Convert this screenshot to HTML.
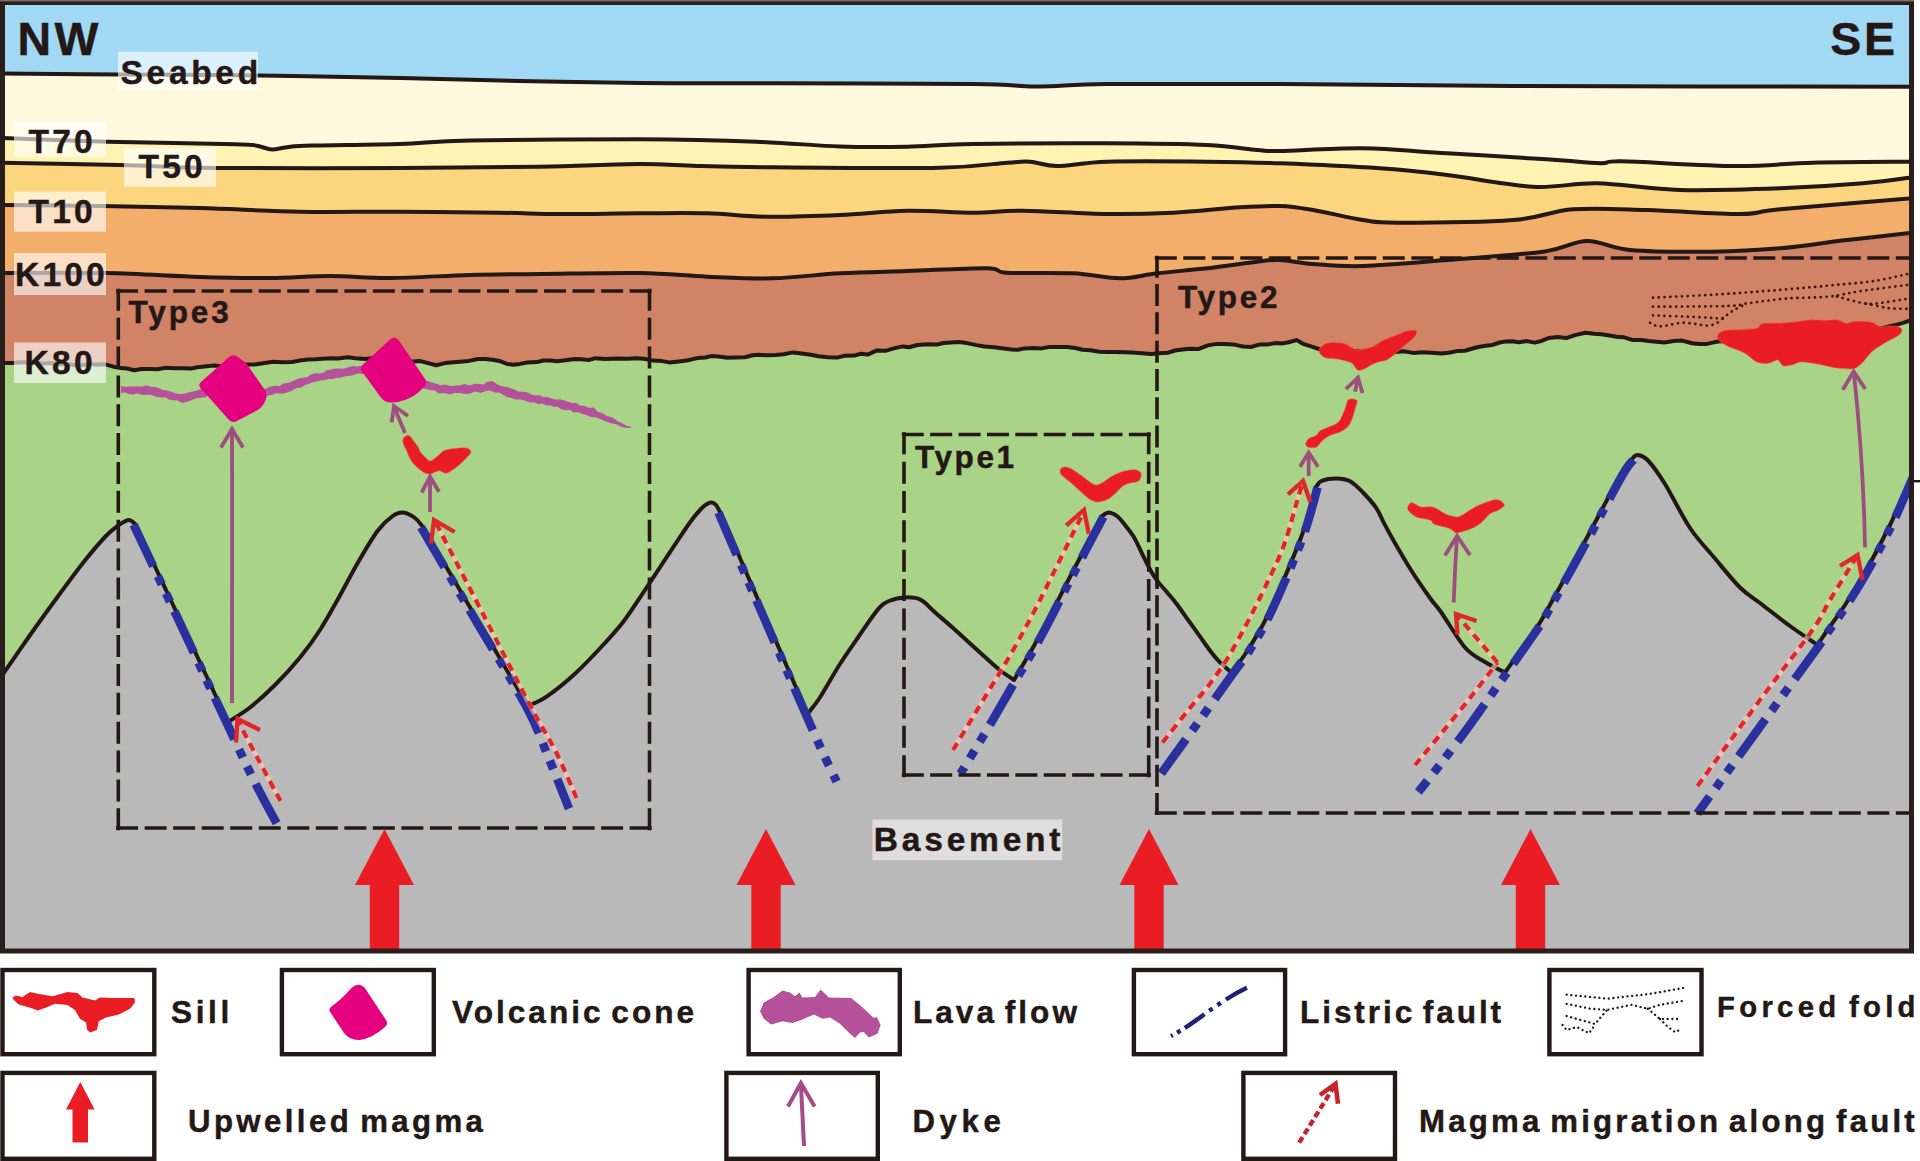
<!DOCTYPE html>
<html lang="en"><head><meta charset="utf-8"><title>Magma plumbing schematic</title>
<style>html,body{margin:0;padding:0;background:#fff}svg{display:block}text{font-family:"Liberation Sans",sans-serif;font-weight:700;fill:#231815;stroke:#1d1716;stroke-width:.45px;stroke-linejoin:round;paint-order:stroke}.h{fill:none;stroke:#231815;stroke-width:4;stroke-linejoin:round;stroke-linecap:round}.bx{fill:none;stroke:#231815;stroke-width:3.6;stroke-dasharray:22 6.5}.lb{fill:#fff;fill-opacity:.62}.lg{fill:#fff;stroke:#231815;stroke-width:4.4}.dy{fill:none;stroke:#9c4f7e;stroke-width:3.8;stroke-linejoin:miter;stroke-linecap:butt}.fb{fill:none;stroke:#2a309e;stroke-width:8.6;stroke-dasharray:46 11 9 10 9 10.5}.rd{fill:none;stroke:#e0262a;stroke-width:4.2;stroke-dasharray:8.3 6}.ru{fill:none;stroke:#ffcdbe;stroke-opacity:.6;stroke-width:5}.rh{fill:none;stroke:#e0262a;stroke-width:4.3;stroke-linejoin:miter}.dot{fill:none;stroke:#3d1609;stroke-width:2.7;stroke-linecap:round;stroke-dasharray:0.1 5.7}</style></head><body>
<svg width="1920" height="1161" viewBox="0 0 1920 1161">
<rect width="1920" height="1161" fill="#fff"/>
<defs><clipPath id="fr"><rect x="2.5" y="2.5" width="1909" height="948.5"/></clipPath></defs>
<g clip-path="url(#fr)">
<rect x="0" y="0" width="1915" height="955" fill="#a1d8f4"/>
<path d="M0 73.5C20 73.7 76.7 74.2 120 74.5C163.3 74.8 213.3 74.9 260 75.5C306.7 76.1 356.7 77.1 400 78C443.3 78.9 480 80.2 520 81C560 81.8 597.8 82.6 640 83C682.2 83.4 717.5 83.1 773 83.3C828.5 83.5 928.5 83.5 973 84C1017.5 84.5 1017.7 86.5 1040 86.5C1062.3 86.5 1067 84.4 1107 84C1147 83.6 1212.3 83.7 1280 84C1347.7 84.3 1407.2 85.5 1513 86C1618.8 86.5 1848 86.6 1915 86.7L1915 960L0 960Z" fill="#fef9dc"/>
<path d="M0 138C17.8 138.6 67.7 140.6 107 141.7C146.3 142.8 211 143.6 236 144.3C261 145 251 144.9 257 145.8C263 146.7 267 149.3 272 149.5C277 149.7 280.3 147.8 287 147.2C293.7 146.5 293.2 146.1 312 145.6C330.8 145.1 373.7 144.8 400 144C426.3 143.2 430 141.3 470 140.5C510 139.7 592.2 139.1 640 139.3C687.8 139.5 723.7 140.5 757 141.7C790.3 142.9 815 145.7 840 146.5C865 147.3 884.8 147.1 907 146.7C929.2 146.3 939.7 144.6 973 144C1006.3 143.4 1068 143.1 1107 143.3C1146 143.5 1182 143.9 1207 145C1232 146.1 1244.8 149 1257 150C1269.2 151 1262.3 151.3 1280 151C1297.7 150.7 1335.2 147.9 1363 148.3C1390.8 148.7 1416.3 151.5 1447 153.3C1477.7 155.1 1521.5 157.6 1547 159.3C1572.5 161 1587.5 163 1600 163.3C1612.5 163.6 1599.2 160.9 1622 161.3C1644.8 161.8 1705.2 165.8 1737 166C1768.8 166.2 1783.3 163.4 1813 162.7C1842.7 162 1898 161.9 1915 161.7L1915 960L0 960Z" fill="#fef3b3"/>
<path d="M0 162.7C20 163.1 84.2 164.1 120 165C155.8 165.9 168.3 167.5 215 168C261.7 168.5 345.8 168.2 400 168C454.2 167.8 500 167.4 540 166.7C580 166 613.8 164.1 640 164C666.2 163.9 674.8 165.4 697 166C719.2 166.6 732.5 167 773 167.3C813.5 167.6 901 168.5 940 167.7C979 166.9 992 163.7 1007 162.7C1022 161.7 1021.7 161.1 1030 161.7C1038.3 162.2 1044.2 166 1057 166C1069.8 166 1082 162.4 1107 161.7C1132 161 1178.2 161.4 1207 161.7C1235.8 162 1251.2 162.2 1280 163.3C1308.8 164.4 1352.2 166.4 1380 168.3C1407.8 170.2 1421.5 171.9 1447 175C1472.5 178.1 1508 185.3 1533 186.7C1558 188.1 1572.5 182.8 1597 183.3C1621.5 183.9 1649.5 189.2 1680 190C1710.5 190.8 1749.5 189.4 1780 188.3C1810.5 187.2 1840.5 185.2 1863 183.3C1885.5 181.4 1906.3 178.1 1915 177L1915 960L0 960Z" fill="#fbd67f"/>
<path d="M0 205C16.7 205.2 66.7 205.5 100 206C133.3 206.5 166.7 207.1 200 208C233.3 208.9 266.7 211.1 300 211.7C333.3 212.3 366.7 211.5 400 211.7C433.3 211.9 473.3 212.3 500 212.7C526.7 213.1 536.7 213.9 560 214C583.3 214.1 615.5 213.4 640 213.3C664.5 213.2 685.8 212.7 707 213.3C728.2 213.9 744.8 216.4 767 216.7C789.2 217 816.7 216 840 215C863.3 214 884.8 211.1 907 210.7C929.2 210.3 953.7 212.7 973 212.7C992.3 212.7 1000.7 210.5 1023 210.7C1045.3 210.9 1082 213.7 1107 214C1132 214.3 1150.8 213.8 1173 212.7C1195.2 211.6 1222.2 208.4 1240 207.3C1257.8 206.2 1267.8 205.6 1280 206C1292.2 206.4 1299.2 207.7 1313 210C1326.8 212.3 1349 217.9 1363 220C1377 222.1 1372 222.7 1397 222.7C1422 222.7 1483.7 222.2 1513 220C1542.3 217.8 1550.7 211 1573 209.3C1595.3 207.6 1619.2 209.2 1647 210C1674.8 210.8 1717.8 214.1 1740 214C1762.2 213.9 1750.8 212 1780 209.3C1809.2 206.6 1892.5 199.9 1915 198L1915 960L0 960Z" fill="#f4ae6b"/>
<path d="M0 273C17.8 273 73.7 272.3 107 273C140.3 273.7 172.8 276.2 200 277C227.2 277.8 248.3 278.2 270 278C291.7 277.8 310 276 330 276C350 276 366.7 278.2 390 278C413.3 277.8 445 275.7 470 275C495 274.3 511.7 274.3 540 274C568.3 273.7 612.2 272.6 640 273C667.8 273.4 684.8 275.8 707 276.7C729.2 277.6 750.8 278.9 773 278.3C795.2 277.7 817.7 274.5 840 273.3C862.3 272.1 882.5 271.8 907 271C931.5 270.2 970.3 268 987 268.3C1003.7 268.6 992.7 271.9 1007 272.7C1021.3 273.5 1054.2 272.4 1073 273.3C1091.8 274.2 1106 278.3 1120 278.3C1134 278.3 1142.5 275 1157 273.3C1171.5 271.6 1190.3 270.2 1207 268.3C1223.7 266.4 1244.8 263.1 1257 261.7C1269.2 260.3 1270.7 259.6 1280 260C1289.3 260.4 1299.2 263 1313 264C1326.8 265 1340.7 266.7 1363 266C1385.3 265.3 1417 262.4 1447 260C1477 257.6 1519.7 254.9 1543 251.7C1566.3 248.5 1572.5 241.3 1587 241C1601.5 240.7 1609 248.2 1630 250C1651 251.8 1688 252 1713 251.7C1738 251.4 1757.7 250.2 1780 248.3C1802.3 246.4 1824.5 242.6 1847 240C1869.5 237.4 1903.7 233.8 1915 232.5L1915 960L0 960Z" fill="#d08365"/>
<path d="M0 362.3L6.6 363.1L12.9 363L20.4 362.3L28.4 362.4L36.1 362.6L42.5 363.5L51.8 363.1L58.7 364.2L68.5 364.3L76.1 365.3L82.2 365.2L89.4 363.9L95.9 364.4L105.1 364.3L113.5 366.7L121 368.1L127.2 368.5L134 370.2L141.7 369L150.1 368.9L157.3 369.2L166.1 367.8L174.4 368.2L183.9 368.3L191 368.6L197.5 367.3L206.5 366.2L214.5 365.5L223.2 366.4L231.5 366.1L238.7 365.2L247.1 364.5L254.9 364.5L264.7 363.1L273.3 361.7L282.2 362.3L292.1 362L299.3 360.6L307.9 359.4L315.8 359.3L322.3 358.7L331.3 358.3L338.3 358.4L347.8 357.3L355.6 358.2L365.1 358.9L374.6 358L382.2 358.4L391.8 360.4L398.4 359.5L405.3 360.2L413.3 361.6L420.3 361.1L428 363.1L436.2 365.2L445 363.1L453.5 362.3L459.7 361.8L468.8 360.9L478 359L485.6 359L494.1 360L500.4 361.3L507.1 363.9L513.3 364.8L519.9 363.9L527.3 362.5L536.8 362.1L543.4 360.5L550.8 360.4L557.3 361.2L567.3 360.1L575.2 359L581.6 359.3L588.7 360.1L595.3 358.2L605.1 358.9L611.7 358.7L617.8 358.5L627.7 358.8L636.5 358.2L644 358.8L653.1 360.6L662.2 361.1L669.1 362.4L679 361.4L688.2 360.3L697.2 358.1L705.3 357.5L711.4 356.1L718.5 356.4L727.3 357.7L735.1 357.6L745 357.3L752.5 355.3L759.4 354.8L766.2 355.3L775.8 355.1L783.7 354.2L792.9 352.4L801.6 353.5L810.7 354.8L818.6 356.3L827.8 357.2L837 357.6L844.5 355.8L854.3 355.6L861 353.8L867.6 354.6L876.8 350.4L886.2 350.7L894.8 348.1L903 346.4L909 347.2L917.6 345L927.4 344.3L936.9 344.5L943.7 343L950.9 342.5L959.2 342.1L966.9 343.1L976.5 345.1L984.4 346.5L994 347.2L1003.7 348.5L1011.8 349.5L1017.9 349.8L1024.6 348.4L1033.8 348L1041.7 348.4L1049.9 346.9L1058 346.9L1067.1 346.9L1075.4 348L1082.5 349.8L1090.5 350.2L1099.5 351.8L1107.3 351.9L1115.3 352L1124.1 352.2L1132.2 352.5L1142 353.2L1151.5 354L1158.5 353.2L1168.3 352.7L1174.9 350.5L1182.6 349.5L1189.6 348.7L1198.3 349.1L1207.9 345.4L1216.7 343.9L1223.3 344L1233.2 344.4L1243 346.5L1250.9 347L1260.3 344.4L1268 344.4L1275.3 343.1L1282.6 343.4L1288.7 342.2L1296.5 340.1L1303.8 344.2L1311.8 346.6L1321.8 350L1331.7 350.2L1338.7 350.2L1347.8 350.7L1354.4 351.1L1364 352L1371 350.7L1380.7 351.7L1389.5 350.8L1395.7 352.1L1403.4 351.2L1413.2 352.9L1422.4 352.3L1431.8 352.8L1441.3 353.4L1448.6 352.7L1458.3 350.9L1464.9 350.7L1471.8 348.8L1478.5 347L1485.3 345.8L1492.5 344.9L1499.6 342.5L1506.4 341.4L1512.4 341.2L1518.5 342.2L1526.7 341.1L1534.6 342.6L1541 341.1L1548.7 338L1558.1 336.9L1566.1 338.1L1576 334.9L1585.4 332.8L1593.9 333.7L1601.3 334.3L1607.8 335.2L1616.8 336.7L1623.4 337.2L1632.8 340.1L1641.5 340L1648.5 341L1656.3 341.7L1664.1 342.5L1673.9 341.1L1682.1 340.6L1692 343.3L1699.4 344.1L1706.9 343.9L1714.9 342.1L1723 341.1L1730 340.9L1737.6 340.4L1743.7 340.6L1750.6 340.8L1758.8 340.7L1767.4 340.2L1776.9 339L1784.2 339.8L1790.8 338.9L1799.4 337.1L1808.7 337.9L1817.2 336.7L1826.5 334.6L1834.6 334.6L1843.9 334.2L1853.2 332.8L1862.8 332.1L1871.6 330.3L1877.7 329.5L1885.1 327.5L1894.5 325.3L1903 322.9L1911.7 320L1915 319L1915 960L0 960Z" fill="#a9d387"/>
<path d="M0 678C0.5 677.3 -1.7 680.7 3 674C7.7 667.3 19.2 650.5 28 638C36.8 625.5 46.6 611.8 56 599C65.4 586.2 76.3 571.3 84.5 561C92.7 550.7 99.4 542.9 105 537C110.6 531.1 114.1 528.5 118 525.7C121.9 522.9 125.8 520.3 128.6 520C131.4 519.7 133.9 523.3 135 524L228 722L228 722C231.7 719.6 242.2 713.7 250 707.5C257.8 701.3 266.7 693.3 275 685C283.3 676.7 292.5 666.7 300 657.5C307.5 648.3 313.7 639.8 320 630C326.3 620.2 331.5 610.5 338 599C344.5 587.5 352.2 572.3 358.8 561C365.4 549.7 371.9 538.5 377.5 531C383.1 523.5 388.4 519.1 392.6 516C396.9 512.9 399.3 512.2 403 512.5C406.7 512.8 411.7 515.6 415 518C418.3 520.4 421.3 525.2 422.6 526.6L527.8 706L527.8 706C530.9 704.4 538.8 701.9 546.6 696.6C554.4 691.3 565.1 682.8 574.7 674C584.3 665.2 595.9 652.8 604 644C612.1 635.2 617 630 623.5 621.5C630 613 636.7 602.4 643 593C649.3 583.6 655.3 574.3 661.5 565C667.7 555.7 675.1 544.3 680 537C684.9 529.7 687.6 525.6 691 521C694.4 516.4 697.8 512.3 700.5 509.5C703.2 506.7 705.1 505.2 707 504C708.9 502.8 710.1 502.3 711.6 502.5C713.1 502.7 714.6 503.4 716 505C717.4 506.6 719.3 510.8 720 512L807.5 714L807.5 714C809.5 711.3 814.2 706.3 819.6 698C825 689.7 833.4 674.3 840 664C846.6 653.7 852.7 645.1 859 636C865.3 626.9 872.8 615.4 877.8 609.6C882.8 603.8 884.3 603 889 601C893.7 599 900.7 597.6 906 597.4C911.3 597.2 916.3 597.6 921 600C925.7 602.4 928.7 606.8 934 611.5C939.3 616.2 946.7 622.4 953 628C959.3 633.6 965.5 639.3 971.7 645C978 650.7 985.5 657.6 990.5 662C995.5 666.4 997.8 668.5 1001.7 671.5C1005.6 674.5 1012 678.6 1014 680L1014 680C1018.3 672.5 1030.5 652.5 1040 635C1049.5 617.5 1060.7 594.8 1071 575C1081.3 555.2 1096.8 525.8 1102 516L1102 516C1102.7 515.6 1104.6 513.9 1106 513.4C1107.4 512.9 1108.4 512.3 1110.2 512.7C1112 513.1 1114.5 513.9 1117 516C1119.5 518.1 1122.6 521.9 1125.4 525.4C1128.2 528.9 1131.2 532.5 1134 537.3C1136.8 542.1 1139.6 548.6 1142.4 554.3C1145.2 560 1148.5 566.8 1151 571.3C1153.5 575.8 1154.9 577.7 1157.7 581.4C1160.5 585.1 1164.8 589.6 1167.9 593.3C1171 597 1173.5 599.8 1176.3 603.5C1179.1 607.2 1182 611.4 1184.8 615.4C1187.6 619.4 1190.5 623.2 1193.3 627.2C1196.1 631.2 1199 635.1 1201.8 639.1C1204.6 643.1 1207.5 647.3 1210.3 651C1213.1 654.7 1215.3 657.6 1218.8 661.2C1222.3 664.8 1229.4 670.9 1231.5 672.8L1231.5 672.8C1234 669.3 1240.9 660.8 1246.6 652C1252.2 643.2 1259.2 632.2 1265.4 620C1271.6 607.8 1277.7 593.7 1284 579C1290.3 564.3 1297.7 547.3 1303 532C1308.3 516.7 1313.8 494.5 1316 487L1316 487C1317 486 1318.2 482.2 1321.7 480.8C1325.2 479.4 1332 478.4 1336.7 478.5C1341.4 478.6 1345.6 479 1350 481.3C1354.4 483.6 1358.7 488.1 1363 492.5C1367.3 496.9 1372.5 502.6 1376 507.6C1379.5 512.6 1381 517.4 1383.7 522.6C1386.5 527.8 1388 530.8 1392.5 538.7C1397 546.6 1404.8 560.1 1411 570C1417.2 579.9 1425 591 1430 598C1435 605 1435.2 603.8 1441 612C1446.8 620.2 1457.7 639.2 1465 647.5C1472.3 655.8 1478.3 657.8 1485 662C1491.7 666.2 1501.7 670.8 1505 672.5L1505 672.5C1510 665.4 1528.2 640.1 1535 630C1541.8 619.9 1538 626.2 1546 612C1554 597.8 1570.7 567.7 1583 545C1595.3 522.3 1611.8 490.3 1620 476C1628.2 461.7 1630 461.8 1632 459L1632 459C1632.9 458.3 1634.8 454.8 1637.5 455C1640.2 455.2 1643.4 455.7 1648 460.5C1652.6 465.3 1658 472.8 1665 484C1672 495.2 1681.7 515.6 1690 528C1698.3 540.4 1706.7 548.6 1715 558.5C1723.3 568.4 1732.5 580.1 1740 587.5C1747.5 594.9 1751.7 596.6 1760 603C1768.3 609.4 1780.4 619 1790 626C1799.6 633 1812.9 641.8 1817.5 645L1817.5 645C1819.2 642.5 1822.9 636.7 1827.5 630C1832.1 623.3 1838.8 614.6 1845 605C1851.2 595.4 1857.5 585.8 1865 572.5C1872.5 559.2 1882.5 540.4 1890 525C1897.5 509.6 1906.4 488 1910 480C1913.6 472 1911.2 477.5 1911.5 477L1915 960L0 960Z" fill="#b9b9b9"/>
<path class="h" d="M0 73.5C20 73.7 76.7 74.2 120 74.5C163.3 74.8 213.3 74.9 260 75.5C306.7 76.1 356.7 77.1 400 78C443.3 78.9 480 80.2 520 81C560 81.8 597.8 82.6 640 83C682.2 83.4 717.5 83.1 773 83.3C828.5 83.5 928.5 83.5 973 84C1017.5 84.5 1017.7 86.5 1040 86.5C1062.3 86.5 1067 84.4 1107 84C1147 83.6 1212.3 83.7 1280 84C1347.7 84.3 1407.2 85.5 1513 86C1618.8 86.5 1848 86.6 1915 86.7"/>
<path class="h" d="M0 138C17.8 138.6 67.7 140.6 107 141.7C146.3 142.8 211 143.6 236 144.3C261 145 251 144.9 257 145.8C263 146.7 267 149.3 272 149.5C277 149.7 280.3 147.8 287 147.2C293.7 146.5 293.2 146.1 312 145.6C330.8 145.1 373.7 144.8 400 144C426.3 143.2 430 141.3 470 140.5C510 139.7 592.2 139.1 640 139.3C687.8 139.5 723.7 140.5 757 141.7C790.3 142.9 815 145.7 840 146.5C865 147.3 884.8 147.1 907 146.7C929.2 146.3 939.7 144.6 973 144C1006.3 143.4 1068 143.1 1107 143.3C1146 143.5 1182 143.9 1207 145C1232 146.1 1244.8 149 1257 150C1269.2 151 1262.3 151.3 1280 151C1297.7 150.7 1335.2 147.9 1363 148.3C1390.8 148.7 1416.3 151.5 1447 153.3C1477.7 155.1 1521.5 157.6 1547 159.3C1572.5 161 1587.5 163 1600 163.3C1612.5 163.6 1599.2 160.9 1622 161.3C1644.8 161.8 1705.2 165.8 1737 166C1768.8 166.2 1783.3 163.4 1813 162.7C1842.7 162 1898 161.9 1915 161.7"/>
<path class="h" d="M0 162.7C20 163.1 84.2 164.1 120 165C155.8 165.9 168.3 167.5 215 168C261.7 168.5 345.8 168.2 400 168C454.2 167.8 500 167.4 540 166.7C580 166 613.8 164.1 640 164C666.2 163.9 674.8 165.4 697 166C719.2 166.6 732.5 167 773 167.3C813.5 167.6 901 168.5 940 167.7C979 166.9 992 163.7 1007 162.7C1022 161.7 1021.7 161.1 1030 161.7C1038.3 162.2 1044.2 166 1057 166C1069.8 166 1082 162.4 1107 161.7C1132 161 1178.2 161.4 1207 161.7C1235.8 162 1251.2 162.2 1280 163.3C1308.8 164.4 1352.2 166.4 1380 168.3C1407.8 170.2 1421.5 171.9 1447 175C1472.5 178.1 1508 185.3 1533 186.7C1558 188.1 1572.5 182.8 1597 183.3C1621.5 183.9 1649.5 189.2 1680 190C1710.5 190.8 1749.5 189.4 1780 188.3C1810.5 187.2 1840.5 185.2 1863 183.3C1885.5 181.4 1906.3 178.1 1915 177"/>
<path class="h" d="M0 205C16.7 205.2 66.7 205.5 100 206C133.3 206.5 166.7 207.1 200 208C233.3 208.9 266.7 211.1 300 211.7C333.3 212.3 366.7 211.5 400 211.7C433.3 211.9 473.3 212.3 500 212.7C526.7 213.1 536.7 213.9 560 214C583.3 214.1 615.5 213.4 640 213.3C664.5 213.2 685.8 212.7 707 213.3C728.2 213.9 744.8 216.4 767 216.7C789.2 217 816.7 216 840 215C863.3 214 884.8 211.1 907 210.7C929.2 210.3 953.7 212.7 973 212.7C992.3 212.7 1000.7 210.5 1023 210.7C1045.3 210.9 1082 213.7 1107 214C1132 214.3 1150.8 213.8 1173 212.7C1195.2 211.6 1222.2 208.4 1240 207.3C1257.8 206.2 1267.8 205.6 1280 206C1292.2 206.4 1299.2 207.7 1313 210C1326.8 212.3 1349 217.9 1363 220C1377 222.1 1372 222.7 1397 222.7C1422 222.7 1483.7 222.2 1513 220C1542.3 217.8 1550.7 211 1573 209.3C1595.3 207.6 1619.2 209.2 1647 210C1674.8 210.8 1717.8 214.1 1740 214C1762.2 213.9 1750.8 212 1780 209.3C1809.2 206.6 1892.5 199.9 1915 198"/>
<path class="h" d="M0 273C17.8 273 73.7 272.3 107 273C140.3 273.7 172.8 276.2 200 277C227.2 277.8 248.3 278.2 270 278C291.7 277.8 310 276 330 276C350 276 366.7 278.2 390 278C413.3 277.8 445 275.7 470 275C495 274.3 511.7 274.3 540 274C568.3 273.7 612.2 272.6 640 273C667.8 273.4 684.8 275.8 707 276.7C729.2 277.6 750.8 278.9 773 278.3C795.2 277.7 817.7 274.5 840 273.3C862.3 272.1 882.5 271.8 907 271C931.5 270.2 970.3 268 987 268.3C1003.7 268.6 992.7 271.9 1007 272.7C1021.3 273.5 1054.2 272.4 1073 273.3C1091.8 274.2 1106 278.3 1120 278.3C1134 278.3 1142.5 275 1157 273.3C1171.5 271.6 1190.3 270.2 1207 268.3C1223.7 266.4 1244.8 263.1 1257 261.7C1269.2 260.3 1270.7 259.6 1280 260C1289.3 260.4 1299.2 263 1313 264C1326.8 265 1340.7 266.7 1363 266C1385.3 265.3 1417 262.4 1447 260C1477 257.6 1519.7 254.9 1543 251.7C1566.3 248.5 1572.5 241.3 1587 241C1601.5 240.7 1609 248.2 1630 250C1651 251.8 1688 252 1713 251.7C1738 251.4 1757.7 250.2 1780 248.3C1802.3 246.4 1824.5 242.6 1847 240C1869.5 237.4 1903.7 233.8 1915 232.5"/>
<path class="h" d="M0 362.3L6.6 363.1L12.9 363L20.4 362.3L28.4 362.4L36.1 362.6L42.5 363.5L51.8 363.1L58.7 364.2L68.5 364.3L76.1 365.3L82.2 365.2L89.4 363.9L95.9 364.4L105.1 364.3L113.5 366.7L121 368.1L127.2 368.5L134 370.2L141.7 369L150.1 368.9L157.3 369.2L166.1 367.8L174.4 368.2L183.9 368.3L191 368.6L197.5 367.3L206.5 366.2L214.5 365.5L223.2 366.4L231.5 366.1L238.7 365.2L247.1 364.5L254.9 364.5L264.7 363.1L273.3 361.7L282.2 362.3L292.1 362L299.3 360.6L307.9 359.4L315.8 359.3L322.3 358.7L331.3 358.3L338.3 358.4L347.8 357.3L355.6 358.2L365.1 358.9L374.6 358L382.2 358.4L391.8 360.4L398.4 359.5L405.3 360.2L413.3 361.6L420.3 361.1L428 363.1L436.2 365.2L445 363.1L453.5 362.3L459.7 361.8L468.8 360.9L478 359L485.6 359L494.1 360L500.4 361.3L507.1 363.9L513.3 364.8L519.9 363.9L527.3 362.5L536.8 362.1L543.4 360.5L550.8 360.4L557.3 361.2L567.3 360.1L575.2 359L581.6 359.3L588.7 360.1L595.3 358.2L605.1 358.9L611.7 358.7L617.8 358.5L627.7 358.8L636.5 358.2L644 358.8L653.1 360.6L662.2 361.1L669.1 362.4L679 361.4L688.2 360.3L697.2 358.1L705.3 357.5L711.4 356.1L718.5 356.4L727.3 357.7L735.1 357.6L745 357.3L752.5 355.3L759.4 354.8L766.2 355.3L775.8 355.1L783.7 354.2L792.9 352.4L801.6 353.5L810.7 354.8L818.6 356.3L827.8 357.2L837 357.6L844.5 355.8L854.3 355.6L861 353.8L867.6 354.6L876.8 350.4L886.2 350.7L894.8 348.1L903 346.4L909 347.2L917.6 345L927.4 344.3L936.9 344.5L943.7 343L950.9 342.5L959.2 342.1L966.9 343.1L976.5 345.1L984.4 346.5L994 347.2L1003.7 348.5L1011.8 349.5L1017.9 349.8L1024.6 348.4L1033.8 348L1041.7 348.4L1049.9 346.9L1058 346.9L1067.1 346.9L1075.4 348L1082.5 349.8L1090.5 350.2L1099.5 351.8L1107.3 351.9L1115.3 352L1124.1 352.2L1132.2 352.5L1142 353.2L1151.5 354L1158.5 353.2L1168.3 352.7L1174.9 350.5L1182.6 349.5L1189.6 348.7L1198.3 349.1L1207.9 345.4L1216.7 343.9L1223.3 344L1233.2 344.4L1243 346.5L1250.9 347L1260.3 344.4L1268 344.4L1275.3 343.1L1282.6 343.4L1288.7 342.2L1296.5 340.1L1303.8 344.2L1311.8 346.6L1321.8 350L1331.7 350.2L1338.7 350.2L1347.8 350.7L1354.4 351.1L1364 352L1371 350.7L1380.7 351.7L1389.5 350.8L1395.7 352.1L1403.4 351.2L1413.2 352.9L1422.4 352.3L1431.8 352.8L1441.3 353.4L1448.6 352.7L1458.3 350.9L1464.9 350.7L1471.8 348.8L1478.5 347L1485.3 345.8L1492.5 344.9L1499.6 342.5L1506.4 341.4L1512.4 341.2L1518.5 342.2L1526.7 341.1L1534.6 342.6L1541 341.1L1548.7 338L1558.1 336.9L1566.1 338.1L1576 334.9L1585.4 332.8L1593.9 333.7L1601.3 334.3L1607.8 335.2L1616.8 336.7L1623.4 337.2L1632.8 340.1L1641.5 340L1648.5 341L1656.3 341.7L1664.1 342.5L1673.9 341.1L1682.1 340.6L1692 343.3L1699.4 344.1L1706.9 343.9L1714.9 342.1L1723 341.1L1730 340.9L1737.6 340.4L1743.7 340.6L1750.6 340.8L1758.8 340.7L1767.4 340.2L1776.9 339L1784.2 339.8L1790.8 338.9L1799.4 337.1L1808.7 337.9L1817.2 336.7L1826.5 334.6L1834.6 334.6L1843.9 334.2L1853.2 332.8L1862.8 332.1L1871.6 330.3L1877.7 329.5L1885.1 327.5L1894.5 325.3L1903 322.9L1911.7 320L1915 319"/>
<path class="h" style="stroke-width:4" d="M0 678C0.5 677.3 -1.7 680.7 3 674C7.7 667.3 19.2 650.5 28 638C36.8 625.5 46.6 611.8 56 599C65.4 586.2 76.3 571.3 84.5 561C92.7 550.7 99.4 542.9 105 537C110.6 531.1 114.1 528.5 118 525.7C121.9 522.9 125.8 520.3 128.6 520C131.4 519.7 133.9 523.3 135 524L228 722L228 722C231.7 719.6 242.2 713.7 250 707.5C257.8 701.3 266.7 693.3 275 685C283.3 676.7 292.5 666.7 300 657.5C307.5 648.3 313.7 639.8 320 630C326.3 620.2 331.5 610.5 338 599C344.5 587.5 352.2 572.3 358.8 561C365.4 549.7 371.9 538.5 377.5 531C383.1 523.5 388.4 519.1 392.6 516C396.9 512.9 399.3 512.2 403 512.5C406.7 512.8 411.7 515.6 415 518C418.3 520.4 421.3 525.2 422.6 526.6L527.8 706L527.8 706C530.9 704.4 538.8 701.9 546.6 696.6C554.4 691.3 565.1 682.8 574.7 674C584.3 665.2 595.9 652.8 604 644C612.1 635.2 617 630 623.5 621.5C630 613 636.7 602.4 643 593C649.3 583.6 655.3 574.3 661.5 565C667.7 555.7 675.1 544.3 680 537C684.9 529.7 687.6 525.6 691 521C694.4 516.4 697.8 512.3 700.5 509.5C703.2 506.7 705.1 505.2 707 504C708.9 502.8 710.1 502.3 711.6 502.5C713.1 502.7 714.6 503.4 716 505C717.4 506.6 719.3 510.8 720 512L807.5 714L807.5 714C809.5 711.3 814.2 706.3 819.6 698C825 689.7 833.4 674.3 840 664C846.6 653.7 852.7 645.1 859 636C865.3 626.9 872.8 615.4 877.8 609.6C882.8 603.8 884.3 603 889 601C893.7 599 900.7 597.6 906 597.4C911.3 597.2 916.3 597.6 921 600C925.7 602.4 928.7 606.8 934 611.5C939.3 616.2 946.7 622.4 953 628C959.3 633.6 965.5 639.3 971.7 645C978 650.7 985.5 657.6 990.5 662C995.5 666.4 997.8 668.5 1001.7 671.5C1005.6 674.5 1012 678.6 1014 680L1014 680C1018.3 672.5 1030.5 652.5 1040 635C1049.5 617.5 1060.7 594.8 1071 575C1081.3 555.2 1096.8 525.8 1102 516L1102 516C1102.7 515.6 1104.6 513.9 1106 513.4C1107.4 512.9 1108.4 512.3 1110.2 512.7C1112 513.1 1114.5 513.9 1117 516C1119.5 518.1 1122.6 521.9 1125.4 525.4C1128.2 528.9 1131.2 532.5 1134 537.3C1136.8 542.1 1139.6 548.6 1142.4 554.3C1145.2 560 1148.5 566.8 1151 571.3C1153.5 575.8 1154.9 577.7 1157.7 581.4C1160.5 585.1 1164.8 589.6 1167.9 593.3C1171 597 1173.5 599.8 1176.3 603.5C1179.1 607.2 1182 611.4 1184.8 615.4C1187.6 619.4 1190.5 623.2 1193.3 627.2C1196.1 631.2 1199 635.1 1201.8 639.1C1204.6 643.1 1207.5 647.3 1210.3 651C1213.1 654.7 1215.3 657.6 1218.8 661.2C1222.3 664.8 1229.4 670.9 1231.5 672.8L1231.5 672.8C1234 669.3 1240.9 660.8 1246.6 652C1252.2 643.2 1259.2 632.2 1265.4 620C1271.6 607.8 1277.7 593.7 1284 579C1290.3 564.3 1297.7 547.3 1303 532C1308.3 516.7 1313.8 494.5 1316 487L1316 487C1317 486 1318.2 482.2 1321.7 480.8C1325.2 479.4 1332 478.4 1336.7 478.5C1341.4 478.6 1345.6 479 1350 481.3C1354.4 483.6 1358.7 488.1 1363 492.5C1367.3 496.9 1372.5 502.6 1376 507.6C1379.5 512.6 1381 517.4 1383.7 522.6C1386.5 527.8 1388 530.8 1392.5 538.7C1397 546.6 1404.8 560.1 1411 570C1417.2 579.9 1425 591 1430 598C1435 605 1435.2 603.8 1441 612C1446.8 620.2 1457.7 639.2 1465 647.5C1472.3 655.8 1478.3 657.8 1485 662C1491.7 666.2 1501.7 670.8 1505 672.5L1505 672.5C1510 665.4 1528.2 640.1 1535 630C1541.8 619.9 1538 626.2 1546 612C1554 597.8 1570.7 567.7 1583 545C1595.3 522.3 1611.8 490.3 1620 476C1628.2 461.7 1630 461.8 1632 459L1632 459C1632.9 458.3 1634.8 454.8 1637.5 455C1640.2 455.2 1643.4 455.7 1648 460.5C1652.6 465.3 1658 472.8 1665 484C1672 495.2 1681.7 515.6 1690 528C1698.3 540.4 1706.7 548.6 1715 558.5C1723.3 568.4 1732.5 580.1 1740 587.5C1747.5 594.9 1751.7 596.6 1760 603C1768.3 609.4 1780.4 619 1790 626C1799.6 633 1812.9 641.8 1817.5 645L1817.5 645C1819.2 642.5 1822.9 636.7 1827.5 630C1832.1 623.3 1838.8 614.6 1845 605C1851.2 595.4 1857.5 585.8 1865 572.5C1872.5 559.2 1882.5 540.4 1890 525C1897.5 509.6 1906.4 488 1910 480C1913.6 472 1911.2 477.5 1911.5 477"/>
<path d="M120.9 393L125 392.5L129.1 394.2L133.3 394.5L137.5 393.2L141.6 394.8L145.7 395L149.5 394.6L153.1 395.4L157 396.9L161 397.5L165.3 397.3L168.8 399.5L172.8 400.2L177.1 400.3L182.1 403L187.8 401.4L192.2 399.7L196.7 398.2L201.2 397.8L206 397.1L210.6 394L215.4 394.8L219.1 394.2L223.3 393.9L227.6 394.1L231.8 394.1L236 396.1L240.3 396L244.5 396.4L248.8 395.2L253.1 395.9L257.4 395.1L261.6 396.3L266.3 395.8L271.6 395L276.2 393.2L281.4 393.8L286.5 392.8L291.7 390.8L296.3 387.9L301.6 387.4L305 385.1L309 383.8L312.9 382.3L317 381.6L320.9 380.4L324.9 380.1L328.8 378.9L333.1 379.1L337 377.7L340.9 377.5L345.1 376.3L349.5 375.7L353.9 375L358.2 373.3L362.2 374L365.8 373.4L369.9 373.4L373.9 375.3L378.1 374.9L382.2 375.1L386.4 374.6L390.6 375.1L394 376L396.9 378.2L401.2 378.9L405.3 380L409 382L413 383.4L416.6 385.7L420.3 387.7L424.8 388.7L429.7 389.9L434.6 390.4L439.1 393.6L444.6 393.1L449.8 394.4L455.1 392.9L460.1 393L465.3 394.1L470.3 393.6L475.2 391.4L480.5 392.9L484.7 391.6L488.6 390.5L491.4 390.8L494.5 392.5L499.5 392.4L503.5 394.9L507.2 397.2L511.4 398.1L515.9 399.4L520.9 399.4L525.3 400.7L529.7 402.5L534.4 402.2L538.2 404L542.4 403.6L546.3 405.2L550.3 405.6L554.1 406.7L558.1 407.1L561.8 409.5L565.8 410.3L570.1 409.9L573.7 412.4L578.2 412.3L582.3 413.9L586.6 415L590.5 416.9L595.5 417.3L600.2 418.9L604.8 421L610.3 423.1L616.3 424.3L620.7 426.7L625.7 427.8L631 428L631.4 426.9L626.5 425.7L622.1 423.3L617.5 421.3L612.6 417.5L606.8 415.9L602.5 413.2L597.7 411.8L593.7 407.6L588.8 407.8L584.8 405.7L580.1 405.8L576.2 403.1L571.9 403.1L568 401.6L564.1 400.2L560 399.6L555.6 399.5L551.6 398.4L547.7 396.9L543.5 397.3L539.8 395.2L535.6 395.5L531.2 394.5L527 392.3L522.4 391.7L518.1 391.4L514.6 389.6L510.6 388.2L506.6 386.8L501.9 386.2L497.6 384.4L492.6 381.2L487.2 381.7L483.5 384.4L479.6 384L474.7 383.8L469.8 385.6L464.8 384.1L459.9 385.2L454.9 385.8L450.1 386L445.4 384.6L440.6 385.3L436.2 383.8L431.6 382.5L427.3 381.1L423.6 379.8L420.2 377.2L415.8 376.8L411.7 375.5L407.9 373.9L404 372.2L400.9 368.8L395.8 368.6L391.3 366.7L387.1 367.9L383 367L378.8 366.9L374.7 366.6L370.7 365.1L366.5 365.6L361.9 365.7L357.1 366.6L352.5 366L348.2 367.2L343.9 368.7L339.2 368.4L334.9 368.5L330.9 369.6L326.9 370.2L323.2 372.8L319.1 373.5L314.7 373.2L310.7 374.5L307.2 377.3L303 377.6L298.7 378.4L293.7 380.7L288.7 382.8L283.7 383.6L279.5 385.9L274.4 385.7L269.6 386.7L265.6 388.8L261.9 388.6L257.7 388L253.4 388.8L249.2 386.7L245 386.9L240.7 387.1L236.4 387.8L232.2 386.7L228 386.4L223.7 385.3L219.4 386.6L214.6 384.9L209.2 387.1L204 387L199.2 389.7L194.5 391.3L189.8 391.9L185.4 393.6L181.9 394L179 393.9L174.8 393.3L170.9 391.4L166.8 390.6L162.7 390.1L159 388L155 387L150.5 386.7L146 385.2L141.8 386.8L137.7 386.5L133.6 386.4L129.4 386.6L125.2 386.7L121.1 386.1Z" fill="#b5509b"/>
<path d="M228.5 357.5Q233 353.5 238 357L246.5 363.5L264.5 389.5Q267.5 393.5 266 399Q263 408 255 411.5L237 421Q232.5 423.5 229 420L200.5 388Q197.5 384.5 201.5 381.5Z" fill="#e4007f"/>
<path d="M389.5 340Q394 335 398.5 340L425 379Q428 383.5 424 387Q410 402 392 402.5Q384 402.5 380.5 397L362 371.5Q359 367.5 363 364.5Z" fill="#e4007f"/>
<path d="M403.5 438C404.2 436.9 406 435.6 407.2 435.4C408.4 435.2 409.6 435.9 410.8 437C412 438.1 413.3 440.6 414.5 442.2C415.7 443.8 417.1 445.2 418.1 446.9C419.1 448.6 419.5 450.9 420.7 452.6C421.9 454.3 423.8 455.9 425.4 457.3C427 458.7 428.2 461 430.1 460.9C432 460.8 434.5 458.5 436.9 456.8C439.2 455.1 441.2 451.9 444.2 450.5C447.2 449.1 451.6 448.8 455.1 448.4C458.7 448 463 447.6 465.5 447.9C468 448.2 469.3 449.1 470.2 450C471.1 450.9 471.2 451.9 470.7 453.1C470.2 454.3 468.6 455.7 467.1 457.3C465.6 458.9 463.9 460.7 461.9 462.5C459.9 464.3 457.5 466.5 455.1 468.2C452.7 469.9 449.3 472.2 447.3 472.9C445.3 473.6 444.4 472.8 443.1 472.4C441.8 472 441 470.8 439.5 470.8C438 470.8 435.9 471.9 434.3 472.4C432.7 472.9 431.3 474 429.6 474C427.9 474 425.8 473.4 423.9 472.4C422 471.4 419.9 469.8 418.1 468.2C416.3 466.6 414.4 464.8 412.9 463C411.4 461.2 410.3 459.3 409.3 457.3C408.3 455.3 407.6 452.9 406.7 451C405.8 449.1 404.8 447.4 404.1 445.8C403.5 444.2 402.9 443 402.8 441.7C402.7 440.4 402.8 439.1 403.5 438Z" fill="#ea1d25" stroke="#f2683a" stroke-width=".8" stroke-opacity=".6"/>
<path d="M1060.6 468.8C1061.3 467.6 1063.2 466.9 1065 466.9C1066.8 466.9 1068.7 467.4 1071.2 468.8C1073.8 470.1 1077.5 472.8 1080.6 475C1083.7 477.2 1087.4 480.2 1090 481.9C1092.6 483.6 1094.2 484.9 1096.2 485C1098.3 485.1 1099.9 484 1102.5 482.5C1105.1 481 1108.8 478 1111.9 476.2C1115 474.5 1118.1 472.9 1121.2 471.9C1124.4 470.9 1128 470.3 1130.6 470C1133.2 469.7 1135.1 469.4 1136.9 470C1138.7 470.6 1140.7 472.2 1141.2 473.8C1141.8 475.3 1140.8 478 1140 479.4C1139.2 480.8 1138.3 481.2 1136.2 481.9C1134.2 482.6 1130 482.8 1127.5 483.8C1125 484.7 1123.3 485.8 1121.2 487.5C1119.2 489.2 1117.1 491.9 1115 493.8C1112.9 495.6 1110.8 497.5 1108.8 498.8C1106.7 500 1104.6 500.7 1102.5 501.2C1100.4 501.8 1098.3 502.2 1096.2 501.9C1094.2 501.6 1092.1 500.6 1090 499.4C1087.9 498.1 1085.8 496.2 1083.8 494.4C1081.7 492.6 1079.6 490.6 1077.5 488.8C1075.4 486.9 1073.3 484.9 1071.2 483.1C1069.2 481.3 1066.8 479.7 1065 478.1C1063.2 476.5 1061.3 475.3 1060.6 473.8C1059.9 472.2 1059.9 469.9 1060.6 468.8Z" fill="#ea1d25" stroke="#f2683a" stroke-width=".8" stroke-opacity=".6"/>
<path d="M1319 350C1319.6 347.8 1322.9 344.5 1326.7 343.3C1330.5 342.1 1337.8 342.5 1341.7 343C1345.6 343.5 1347.5 345.3 1350 346.5C1352.5 347.7 1354.4 349.6 1356.7 350C1359 350.4 1361.3 349.6 1364 349C1366.7 348.4 1370 347.8 1373 346.5C1376 345.2 1379.2 342.5 1382 341C1384.8 339.5 1387.2 338.7 1390 337.5C1392.8 336.3 1396.2 335.1 1399 334C1401.8 332.9 1403.9 331.6 1406.7 331C1409.5 330.4 1414.5 329.8 1416 330.5C1417.5 331.2 1416.5 333.8 1415.5 335.5C1414.5 337.2 1412.1 339.1 1410 341C1407.9 342.9 1405.5 344.5 1403 346.7C1400.5 348.9 1397.7 351.8 1395 354C1392.3 356.2 1389.2 358.8 1386.7 360C1384.2 361.2 1382.3 360.8 1380 361.5C1377.7 362.2 1375.2 363 1373 364C1370.8 365 1368.7 366.6 1367 367.5C1365.3 368.4 1364.5 369 1363 369.5C1361.5 370 1359.4 370.8 1358 370.3C1356.6 369.8 1355.5 367.7 1354.5 366.5C1353.5 365.3 1353.5 364 1351.7 363C1350 362 1346.5 361.2 1344 360.5C1341.5 359.8 1339.2 359.3 1336.7 359C1334.2 358.7 1331.3 358.9 1329 358.5C1326.7 358.1 1324.7 357.9 1323 356.5C1321.3 355.1 1318.4 352.2 1319 350Z" fill="#ea1d25" stroke="#f2683a" stroke-width=".8" stroke-opacity=".6"/>
<path d="M1348.5 399.5C1350.4 398.3 1355.9 398.9 1357 400.5C1358.1 402.1 1355.9 405.8 1355 409C1354.1 412.2 1353 416.9 1351.7 420C1350.4 423.1 1349 425.5 1347 427.5C1345 429.5 1342.8 430.7 1340 432C1337.2 433.3 1333 434 1330 435.5C1327 437 1324.2 439.1 1322 441C1319.8 442.9 1318.9 445.9 1316.7 447C1314.5 448.1 1310.9 448 1309 447.5C1307.1 447 1305.5 445.5 1305.5 444C1305.5 442.5 1307.2 439.9 1309 438.5C1310.8 437.1 1314.1 436.8 1316 435.5C1317.9 434.2 1318.2 432 1320.5 430.5C1322.8 429 1327.1 427.8 1330 426.5C1332.9 425.2 1336 424.2 1338 422.5C1340 420.8 1340.8 418.5 1342 416C1343.2 413.5 1344.4 410.2 1345.5 407.5C1346.6 404.8 1346.6 400.7 1348.5 399.5Z" fill="#ea1d25" stroke="#f2683a" stroke-width=".8" stroke-opacity=".6"/>
<path d="M1407.5 507.5C1407.7 505.9 1409.6 503.2 1411 502.7C1412.4 502.2 1414.3 503.8 1416 504.5C1417.7 505.2 1418.2 506.6 1421 507C1423.8 507.4 1429.5 506.5 1432.5 507C1435.5 507.5 1436.9 508.9 1439 510C1441.1 511.1 1443 512.7 1445 513.7C1447 514.7 1448.9 515.2 1451 515.8C1453.1 516.3 1455.3 517.3 1457.5 517C1459.7 516.7 1461.9 515.2 1464 514C1466.1 512.8 1468 511.2 1470 510C1472 508.8 1473.9 507.6 1476 506.5C1478.1 505.4 1480.2 504.6 1482.5 503.7C1484.8 502.8 1487.8 501.7 1490 501C1492.2 500.3 1494.1 499.3 1496 499.4C1497.9 499.5 1500.1 500.5 1501.5 501.5C1502.9 502.5 1504.8 504.2 1504.3 505.6C1503.8 507 1501.1 508.6 1498.7 510C1496.3 511.4 1492.3 512.2 1490 513.7C1487.7 515.2 1486.7 517.3 1485 519C1483.3 520.7 1481.8 522.3 1480 523.7C1478.2 525.1 1476.1 526.5 1474 527.5C1471.9 528.5 1469.7 529.2 1467.5 530C1465.3 530.8 1462.9 531.5 1461 532C1459.1 532.5 1457.8 533.5 1456 533C1454.2 532.5 1452.3 529.8 1450 528.7C1447.7 527.6 1444.7 527.3 1442 526.5C1439.3 525.7 1435.5 525 1433.7 524C1431.9 523 1432.6 521.4 1431 520.5C1429.4 519.6 1426.2 519.2 1424 518.7C1421.8 518.2 1419.8 518.5 1417.5 517.5C1415.2 516.5 1411.7 514.2 1410 512.5C1408.3 510.8 1407.3 509.1 1407.5 507.5Z" fill="#ea1d25" stroke="#f2683a" stroke-width=".8" stroke-opacity=".6"/>
<path d="M1717.3 335.8C1717.4 334.2 1719.3 333 1721 332C1722.7 331 1724 330.4 1727.5 330C1731 329.6 1737.1 329.9 1742 329.6C1746.9 329.3 1753.7 329.1 1756.7 328.3C1759.7 327.5 1758.9 325.9 1760 325C1761.1 324.1 1761 323.5 1763.5 323.2C1766 322.9 1771.3 323.4 1775 323.3C1778.7 323.2 1782 323 1785.8 322.7C1789.6 322.4 1793.9 322 1798 321.5C1802.1 321 1806.3 320 1810.6 319.8C1814.9 319.6 1819.6 320.3 1824 320.3C1828.4 320.3 1833.8 319.5 1836.9 319.8C1840 320.1 1840.8 321.4 1842.5 322C1844.2 322.6 1845.2 323.5 1847 323.4C1848.8 323.3 1851 322 1853 321.6C1855 321.2 1856.6 321.2 1858.8 321.2C1861 321.2 1863.6 321.2 1866 321.5C1868.4 321.8 1871.4 322.1 1873.3 322.7C1875.2 323.3 1876.2 324.6 1877.5 325.3C1878.8 326 1879.1 326.9 1881 327C1882.9 327.1 1886.4 326.1 1889 326C1891.6 325.9 1894.7 326 1896.7 326.4C1898.8 326.8 1900.5 327.6 1901.3 328.5C1902.1 329.4 1902.2 330.7 1901.8 331.8C1901.4 332.9 1900.1 334.1 1899 335C1897.9 335.9 1897.7 335.9 1895.2 337.3C1892.7 338.7 1887.7 341.3 1884 343.5C1880.3 345.7 1876 348.3 1873.3 350.4C1870.6 352.5 1869.7 354.1 1868 356C1866.3 357.9 1864.8 360.2 1863.1 362C1861.4 363.8 1859.7 365.4 1858 366.5C1856.3 367.6 1855.7 368.4 1852.9 368.8C1850.1 369.2 1845 368.9 1841.3 368.6C1837.6 368.3 1834.2 367.6 1831 367C1827.8 366.4 1825.6 365.7 1822.3 365C1819 364.3 1814.7 363.5 1811 363C1807.3 362.5 1803.3 361.8 1800.4 362C1797.5 362.2 1795.7 363.9 1793.5 364.5C1791.3 365.1 1789 365.6 1787.3 365.8C1785.6 366.1 1784.5 366.3 1783.5 366C1782.5 365.7 1782 364.8 1781.3 364C1780.5 363.2 1779.7 361.7 1779 361C1778.3 360.3 1778.3 359.8 1777 360C1775.7 360.2 1772.9 361.9 1771 362.5C1769.1 363.1 1767.8 363.7 1765.4 363.6C1763 363.5 1759.2 363 1756.7 362C1754.2 361 1752.5 358.9 1750.5 357.5C1748.5 356.1 1747.2 354.6 1745 353.3C1742.8 352.1 1739.9 351 1737.5 350C1735.1 349 1732.6 348.4 1730.4 347.5C1728.2 346.6 1726.2 345.5 1724.5 344.5C1722.8 343.5 1721.4 343.1 1720.2 341.7C1719 340.2 1717.2 337.4 1717.3 335.8Z" fill="#ea1d25" stroke="#f2683a" stroke-width=".8" stroke-opacity=".6"/>
<path class="dot" d="M1653 297.6C1663 297.1 1693.3 295.9 1713 294.7C1732.7 293.5 1751.6 292.1 1771 290.6C1790.4 289.1 1812.5 287.1 1829.6 285.5C1846.6 283.9 1860.2 283 1873.3 281.1C1886.4 279.2 1902.5 275.1 1908.3 273.9"/>
<path class="dot" d="M1653 306.7C1665.4 306.6 1711.4 306.6 1727.5 306C1743.6 305.4 1739.7 304.2 1749.4 303C1759.1 301.8 1772.4 299.7 1785.8 298.6C1799.2 297.5 1817.4 297.7 1829.6 296.5C1841.8 295.3 1845.7 293.3 1858.8 291.4C1871.9 289.4 1900 285.9 1908.3 284.8"/>
<path class="dot" d="M1653 315.4C1660.8 315.7 1688.5 316.7 1700 317.2C1711.5 317.7 1717 318.8 1721.7 318.3C1726.4 317.8 1725.8 315.4 1728 314C1730.2 312.6 1732 311.2 1734.8 309.6C1737.6 308 1743.3 305.4 1745 304.5"/>
<path class="dot" d="M1650 322.7C1651.7 323.3 1654.8 326.4 1660.4 326.4C1666 326.4 1676 322.8 1683.8 322.7C1691.6 322.6 1701.4 325.6 1707 325.6C1712.6 325.6 1714.6 323.9 1717.3 322.7C1720 321.5 1722 319 1723 318.3"/>
<path class="dot" d="M1837 296.5C1840.6 297.5 1852.8 301.1 1858.8 302.3C1864.8 303.5 1865 304.4 1873.3 303.8C1881.5 303.2 1902.5 299.5 1908.3 298.6"/>
<path class="dot" d="M1866 303.5C1869.7 304.2 1881 307.1 1888 308C1895 308.9 1904.9 308.8 1908.3 308.9"/>
<path class="fb" d="M133.6 524.7C141.2 540.9 164.1 589.2 179.6 622.2C195.1 655.2 214.2 696.4 226.6 722.7C238.9 748.9 245.2 763 253.6 779.7C261.9 796.5 272.7 816 276.6 823.2"/>
<path class="fb" d="M421.2 527.4C430 542.3 456.1 586.9 473.6 616.8C491.1 646.7 513.9 683.3 526.4 706.8C538.9 730.2 541.4 740.6 548.5 757.6C555.6 774.6 565.6 800.1 569 808.6"/>
<path class="fb" d="M718.5 512.6C725.8 529.5 747.6 580 762.2 613.6C776.8 647.3 796.1 692 806 714.6C815.9 737.3 816.5 738.5 821.5 749.7C826.6 760.8 834.1 776.3 836.6 781.7"/>
<path class="fb" d="M1103.4 516.7C1098.3 526.6 1082.8 555.9 1072.4 575.7C1062.1 595.6 1050.9 618.3 1041.4 635.8C1031.9 653.3 1024.6 665 1015.4 680.8C1006.2 696.6 995.5 715.3 986.4 730.8C977.2 746.3 964.7 766.7 960.4 773.8"/>
<path class="fb" d="M1317.5 487.4C1315.4 495 1309.9 517.2 1304.5 532.5C1299.2 547.9 1291.8 564.9 1285.5 579.6C1279.2 594.3 1273.1 608.5 1266.8 620.7C1260.6 632.9 1253.6 644 1247.9 652.9C1242.3 661.7 1241.4 661.7 1232.8 673.7C1224.2 685.7 1208.2 708.3 1196.3 724.9C1184.4 741.5 1167.1 765.4 1161.3 773.4"/>
<path class="fb" d="M1633.3 459.9C1631.3 462.7 1629.5 462.5 1621.4 476.8C1613.2 491.1 1596.7 523.1 1584.4 545.8C1572.1 568.4 1555.4 598.6 1547.4 612.8C1539.4 627 1543.2 620.8 1536.3 630.9C1529.5 641 1517.1 658.1 1506.3 673.4C1495.5 688.8 1482.1 708 1471.3 722.9C1460.5 737.9 1450.1 751.5 1441.3 763C1432.4 774.5 1422.1 787.2 1418.3 792"/>
<path class="fb" d="M1912.9 477.7C1912.7 478.2 1915 472.7 1911.5 480.7C1907.9 488.7 1898.9 510.3 1891.4 525.7C1883.9 541.1 1873.9 559.9 1866.4 573.3C1858.9 586.6 1852.6 596.3 1846.3 605.9C1840.1 615.5 1833.4 624.2 1828.8 630.9C1824.2 637.6 1830.1 630.3 1818.8 645.9C1807.5 661.6 1781.5 697 1761.3 724.9C1741 752.9 1708 798.7 1697.3 813.4"/>
<path class="ru" d="M280.5 801C276.8 794 264.3 770.9 258 759C251.7 747.1 245.1 734.4 242.5 729.5"/>
<path class="rd" d="M280.5 801C276.8 794 265 772.2 258 759C251 745.8 241.6 727.8 238.3 721.5"/>
<path class="rh" d="M260 730L237.5 718.8L236 742.5"/>
<path class="ru" d="M576.5 798C573.1 790.3 563.6 767.2 556 752C548.4 736.8 543.2 730 531 707C518.8 684 498.1 643.3 483 614C467.9 584.7 447.3 544.8 440.1 531"/>
<path class="rd" d="M576.5 798C573.1 790.3 563.6 767.2 556 752C548.4 736.8 543.2 730 531 707C518.8 684 498.8 644.7 483 614C467.2 583.3 443.8 538.2 436 523"/>
<path class="rh" d="M454.6 532L434 520L431 543.5"/>
<path class="ru" d="M953 750C958.3 741.2 975.2 713.3 985 697C994.8 680.7 1002.8 668.2 1012 652C1021.2 635.8 1028.8 621.8 1040 600C1051.2 578.2 1072.5 534.2 1079 521.1"/>
<path class="rd" d="M953 750C958.3 741.2 975.2 713.3 985 697C994.8 680.7 1002.8 668.2 1012 652C1021.2 635.8 1028.2 623.2 1040 600C1051.8 576.8 1075.8 527.5 1083 513"/>
<path class="rh" d="M1066.3 525.4L1084 510L1088.8 533.8"/>
<path class="ru" d="M1162.5 742.5C1167.1 736.8 1182.2 717.6 1190 708C1197.8 698.4 1202.7 693.4 1209 685C1215.3 676.6 1221.5 668 1227.8 657.8C1234.1 647.6 1240.3 635.9 1246.6 624C1252.9 612.1 1259.2 599.6 1265.4 586.4C1271.6 573.2 1278.4 560.3 1284 545C1289.6 529.7 1296.4 503.1 1299 494.4C1301.6 485.7 1299.5 492.8 1299.6 492.5"/>
<path class="rd" d="M1162.5 742.5C1167.1 736.8 1182.2 717.6 1190 708C1197.8 698.4 1202.7 693.4 1209 685C1215.3 676.6 1221.5 668 1227.8 657.8C1234.1 647.6 1240.3 635.9 1246.6 624C1252.9 612.1 1259.2 599.6 1265.4 586.4C1271.6 573.2 1278.4 560.3 1284 545C1289.6 529.7 1295.9 504.6 1299 494.4C1302.1 484.2 1301.9 485.7 1302.5 484"/>
<path class="rh" d="M1288 494.4L1303 481L1310.4 502"/>
<path class="ru" d="M1415 765C1419.2 760 1430.8 746.2 1440 735C1449.2 723.8 1460.4 710.1 1470 698C1479.6 685.9 1492.9 668.4 1497.5 662.5"/>
<path class="rd" d="M1415 765C1419.2 760 1430.8 746.2 1440 735C1449.2 723.8 1460.4 710.1 1470 698C1479.6 685.9 1492.9 668.4 1497.5 662.5"/>
<path class="ru" d="M1697.5 786C1707.9 771.7 1740.8 726 1760 700C1779.2 674 1800.8 646.7 1812.5 630C1824.2 613.3 1823.5 610.8 1830 600C1836.5 589.2 1847.8 571 1851.3 565.2"/>
<path class="rd" d="M1697.5 786C1707.9 771.7 1740.8 726 1760 700C1779.2 674 1800.8 646.7 1812.5 630C1824.2 613.3 1822.8 612.1 1830 600C1837.2 587.9 1851.7 564.6 1856 557.5"/>
<path class="rh" d="M1840 566L1857.5 555L1862.5 580"/>
<path class="ru" d="M1497.5 662.5L1466 626"/>
<path class="rd" d="M1497.5 662.5L1458 616.5"/>
<path class="rh" d="M1476.5 621L1456 614L1457.5 634.5"/>
<path class="dy" d="M232 703C231.5 600 232.5 520 232 431"/>
<path class="dy" d="M221 447.5L232 429L243 447.5"/>
<path class="dy" d="M405 433L394.5 408"/>
<path class="dy" d="M391.7 422.5L394 406L408 416"/>
<path class="dy" d="M430 512L430 479"/>
<path class="dy" d="M421.7 492.5L430 476.7L439 491.7"/>
<path class="dy" d="M1308.7 476L1308.7 455"/>
<path class="dy" d="M1300 466.7L1308.7 452.5L1318 466.7"/>
<path class="dy" d="M1355 391.7L1357.6 380"/>
<path class="dy" d="M1346 389L1358 377.5L1362.5 393"/>
<path class="dy" d="M1453.7 602.5C1454.5 580 1455.5 560 1456.8 538.5"/>
<path class="dy" d="M1445 555.6L1457 536L1470 555"/>
<path class="dy" d="M1865 547.5C1864 490 1860 430 1854 374"/>
<path class="dy" d="M1842.7 389.8L1853.7 371.6L1865.3 389"/>
<path class="bx" style="stroke-dasharray:22 6.53" d="M116.1 291L651.7 291"/>
<path class="bx" style="stroke-dasharray:22 6.53" d="M116.1 828L651.7 828"/>
<path class="bx" style="stroke-dasharray:22 6.86" d="M118.3 288.8L118.3 830.2"/>
<path class="bx" style="stroke-dasharray:22 6.86" d="M649.5 288.8L649.5 830.2"/>
<path class="bx" style="stroke-dasharray:22 6.39" d="M901.8 434.5L1150.9 434.5"/>
<path class="bx" style="stroke-dasharray:22 6.39" d="M901.8 775L1150.9 775"/>
<path class="bx" style="stroke-dasharray:22 7.35" d="M904 432.3L904 777.2"/>
<path class="bx" style="stroke-dasharray:22 7.35" d="M1148.7 432.3L1148.7 777.2"/>
<path class="bx" style="stroke-dasharray:22 6.50" d="M1154.8 258L1912 258"/>
<path class="bx" style="stroke-dasharray:22 6.50" d="M1154.8 813L1912 813"/>
<path class="bx" style="stroke-dasharray:22 6.28" d="M1157 255.8L1157 815.2"/>
<path d="M384.5 829L414 885L399.2 885L399.2 953L369.8 953L369.8 885L355 885Z" fill="#ea1d25"/>
<path d="M766 829L795.5 885L780.7 885L780.7 953L751.3 953L751.3 885L736.5 885Z" fill="#ea1d25"/>
<path d="M1149 829L1178.5 885L1163.7 885L1163.7 953L1134.3 953L1134.3 885L1119.5 885Z" fill="#ea1d25"/>
<path d="M1530.5 829L1560 885L1545.2 885L1545.2 953L1515.8 953L1515.8 885L1501 885Z" fill="#ea1d25"/>
</g>
<rect x="2.5" y="2.5" width="1909" height="948.5" fill="none" stroke="#2a1e1c" stroke-width="5"/>
<rect x="0" y="0" width="1914" height="1.4" fill="#7d6c68"/>
<rect x="1914" y="480" width="6" height="2.4" fill="#231815"/>
<rect class="lb" x="118" y="51.7" width="140" height="38.5"/>
<rect class="lb" x="14" y="121.7" width="92" height="35"/>
<rect class="lb" x="124" y="148" width="92" height="38.7"/>
<rect class="lb" x="14" y="191.7" width="92" height="40"/>
<rect class="lb" x="14" y="253" width="92" height="42"/>
<rect class="lb" x="14" y="342.5" width="92" height="40.5"/>
<rect x="872.4" y="819.5" width="189.8" height="40.7" fill="#dedede"/>
<text x="17.6" y="54.6" font-size="46.5" letter-spacing="3.4" stroke-width="0">NW</text>
<text x="1830.2" y="55.4" font-size="46.5" letter-spacing="2.9" stroke-width="0">SE</text>
<text x="120.5" y="84" font-size="33.5" letter-spacing="3.7">Seabed</text>
<text x="28.5" y="152.5" font-size="33.5" letter-spacing="3.2">T70</text>
<text x="138.5" y="178.3" font-size="33.5" letter-spacing="3.2">T50</text>
<text x="28.5" y="222.5" font-size="33.5" letter-spacing="3.2">T10</text>
<text x="15" y="286" font-size="33.5" letter-spacing="3.2">K100</text>
<text x="24.5" y="374" font-size="33.5" letter-spacing="3.4">K80</text>
<text x="128.5" y="323" font-size="31.5" letter-spacing="2.9">Type3</text>
<text x="915" y="467.6" font-size="31.5" letter-spacing="2.6">Type1</text>
<text x="1178" y="308.4" font-size="31.5" letter-spacing="2.7">Type2</text>
<text x="873.8" y="851" font-size="33.5" letter-spacing="3.8">Basement</text>
<rect class="lg" x="2.5" y="970" width="151.8" height="84.2"/>
<rect class="lg" x="281.9" y="970" width="151.9" height="84.2"/>
<rect class="lg" x="748.6" y="970" width="151.2" height="84.2"/>
<rect class="lg" x="1133.9" y="970" width="151.2" height="84.2"/>
<rect class="lg" x="1549.4" y="970" width="152.1" height="84.2"/>
<rect class="lg" x="2.5" y="1072.9" width="151.8" height="85.9"/>
<rect class="lg" x="726.4" y="1072.9" width="151.4" height="85.9"/>
<rect class="lg" x="1243.4" y="1072.9" width="151.6" height="85.9"/>
<path d="M12.5 997.5L16 995.6L22.5 996.9L30 991.9L37.5 993.8L52.5 996.2L67.5 991.9L77.5 993L82.5 997.5L95 1000.6L100 997.5L112.5 998L134.4 998L135 1002.5L130 1008.8L118.8 1014.4L106 1017.5L98.8 1021.2L96.9 1030L90 1032.5L86.9 1029.4L86.2 1022.5L80 1018.8L75 1010L67.5 1005L55 1003.8L45 1008L37.5 1010.6L31.2 1008L18.8 1004.4L13.8 1000Z" fill="#ea1d25"/>
<path d="M352 987.5Q358.5 982 364.5 987.5L386 1020Q388.5 1024 385 1027Q372 1038.5 359.5 1040Q350 1040.5 344 1033L330.5 1012.5Q328 1009.5 331 1007Q343 998 352 987.5Z" fill="#e4007f"/>
<path d="M760 1011.2L763.8 1002.5L773.8 996.9L782.5 990.6L790 992.5L795 996.2L799.4 992.5L802.5 997.5L815 996.9L820.6 989.4L828.8 997.5L851.2 998L861.2 1006.2L873.8 1018L876.9 1016.9L880.6 1025L877.5 1033.8L868.8 1037.5L863.8 1031.9L860 1032.5L855 1038L850 1033.8L840 1023.8L830 1017.5L822.5 1018.8L813.8 1014.4L801.2 1020L792.5 1023L782.5 1021.2L771.2 1024.4L763.8 1018.8Z" fill="#b5509b"/>
<path d="M1171 1036C1195 1024 1215 1003 1247.2 987.7" fill="none" stroke="#1d2275" stroke-width="4.4" stroke-dasharray="2 5 4 5 24 6 4 6 4 6 24 3"/>
<path class="dot" style="stroke:#231815;stroke-width:2.3;stroke-dasharray:0.1 4.6" d="M1566.6 994.6L1607.2 998.7L1651.9 993.6L1685.4 987.5"/>
<path class="dot" style="stroke:#231815;stroke-width:2.3;stroke-dasharray:0.1 4.6" d="M1566.6 1003.8L1591 1008.8L1607.2 1009.8L1631.6 1004.8L1647.8 1008.8L1660 1004.8L1684.4 1000.7"/>
<path class="dot" style="stroke:#231815;stroke-width:2.3;stroke-dasharray:0.1 4.6" d="M1566.6 1016L1595 1024L1601 1017L1607.2 1009.8"/>
<path class="dot" style="stroke:#231815;stroke-width:2.3;stroke-dasharray:0.1 4.6" d="M1562.5 1025L1566.6 1030L1576.7 1027L1589 1033.2L1595 1025"/>
<path class="dot" style="stroke:#231815;stroke-width:2.3;stroke-dasharray:0.1 4.6" d="M1647.8 1008.8L1660 1019L1679.3 1019"/>
<path class="dot" style="stroke:#231815;stroke-width:2.3;stroke-dasharray:0.1 4.6" d="M1660 1019L1668 1027L1675.2 1032.2L1681.3 1029"/>
<path d="M80.3 1082L94.5 1109.5L88 1109.5L88 1142.5L72.5 1142.5L72.5 1109.5L66 1109.5Z" fill="#ea1d25"/>
<path d="M804 1146C803 1125 802 1105 801 1086" fill="none" stroke="#a8498a" stroke-width="4"/>
<path d="M788 1106.5L800.9 1083L814.6 1106.5" fill="none" stroke="#a8498a" stroke-width="4"/>
<path d="M1299.2 1142.6L1334 1086.5" fill="none" stroke="#c8232b" stroke-width="4.4" stroke-dasharray="6.5 3.5"/>
<path d="M1320 1095L1335.5 1083.8L1338 1103.7" fill="none" stroke="#c8232b" stroke-width="4.6"/>
<text x="171" y="1022.5" font-size="31.6" letter-spacing="3.6">Sill</text>
<text x="452" y="1022.5" font-size="31.6" letter-spacing="3" word-spacing="-4">Volcanic cone</text>
<text x="913" y="1022.5" font-size="31.6" letter-spacing="3" word-spacing="-4">Lava flow</text>
<text x="1300" y="1022.5" font-size="31.6" letter-spacing="2.9" word-spacing="-4">Listric fault</text>
<text x="1717" y="1016.6" font-size="29.3" letter-spacing="4.3" word-spacing="-4">Forced fold</text>
<text x="188" y="1132.3" font-size="31.2" letter-spacing="3.4" word-spacing="-4">Upwelled magma</text>
<text x="912.5" y="1131.8" font-size="31.2" letter-spacing="4.6">Dyke</text>
<text x="1419" y="1132.3" font-size="31.2" letter-spacing="3.2" word-spacing="-4">Magma migration along fault</text>
</svg></body></html>
